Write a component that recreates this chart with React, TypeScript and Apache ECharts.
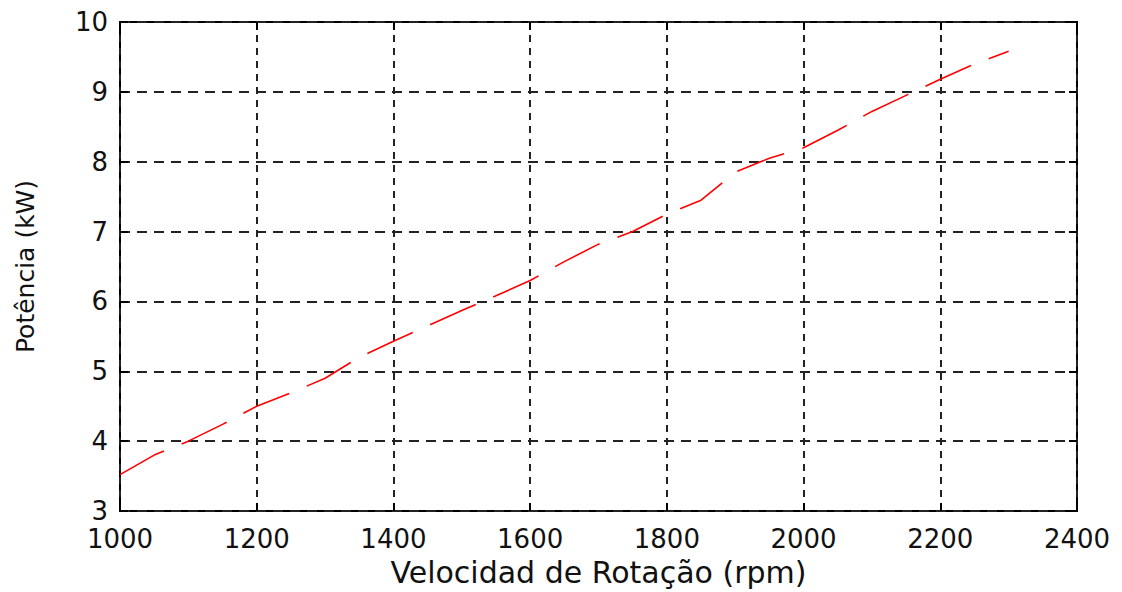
import React, { useEffect, useRef } from "react";
import * as echarts from "echarts";

const rpm = [1000, 1050, 1100, 1150, 1200, 1250, 1300, 1350, 1400, 1450, 1500, 1550, 1600, 1650, 1700, 1750, 1800, 1850, 1900, 1950, 2000, 2050, 2100, 2150, 2200, 2250, 2300];
const power = [3.52, 3.8, 4.0, 4.24, 4.5, 4.69, 4.9, 5.2, 5.43, 5.65, 5.87, 6.08, 6.3, 6.57, 6.82, 7.0, 7.25, 7.45, 7.85, 8.05, 8.2, 8.45, 8.72, 8.95, 9.18, 9.4, 9.58];
const xTitle = "Velocidad de Rotação (rpm)";
const yTitle = "Potência (kW)";

export default function App() {
  const ref = useRef<HTMLDivElement>(null);
  useEffect(() => {
    const chart = echarts.init(ref.current!, null, { renderer: "svg" });
    const font = "DejaVu Sans";
    const gridV = { show: true, lineStyle: { color: "#222", width: 2, type: [7, 6] } };
    const gridH = { show: true, lineStyle: { color: "#222", width: 2, type: [10, 7] } };
    const tick = { show: true, inside: true, length: 8, lineStyle: { color: "#000", width: 2 } };
    chart.setOption({
      animation: false,
      backgroundColor: "#fff",
      grid: { left: 120, right: 45, top: 22, bottom: 77, show: true, borderColor: "#000", borderWidth: 2, backgroundColor: "transparent" },
      xAxis: [
        {
          type: "value", min: 1000, max: 2400, interval: 200,
          name: xTitle, nameLocation: "middle", nameGap: 46,
          nameTextStyle: { fontFamily: font, fontSize: 30, color: "#111" },
          axisLine: { show: false },
          axisTick: tick,
          axisLabel: { fontFamily: font, fontSize: 26, lineHeight: 22, color: "#111", margin: 17, formatter: (v: number) => String(v) },
          splitLine: gridV,
        },
        {
          type: "value", min: 1000, max: 2400, interval: 200, position: "top",
          axisLine: { show: false }, axisLabel: { show: false }, splitLine: { show: false },
          axisTick: tick,
        },
      ],
      yAxis: [
        {
          type: "value", min: 3, max: 10, interval: 1,
          name: yTitle, nameLocation: "middle", nameGap: 82,
          nameTextStyle: { fontFamily: font, fontSize: 25, color: "#111" },
          axisLine: { show: false },
          axisTick: tick,
          axisLabel: { fontFamily: font, fontSize: 26, lineHeight: 22, color: "#111", margin: 12, padding: [0, 0, 4, 0] },
          splitLine: gridH,
        },
        {
          type: "value", min: 3, max: 10, interval: 1, position: "right",
          axisLine: { show: false }, axisLabel: { show: false }, splitLine: { show: false },
          axisTick: tick,
        },
      ],
      series: [
        {
          type: "line",
          data: rpm.map((r, i) => [r, power[i]]),
          showSymbol: false,
          symbol: "none",
          lineStyle: { color: "#ff0000", width: 1.6, type: [50, 19] },
        },
      ],
    });
    return () => chart.dispose();
  }, []);
  return <div ref={ref} style={{ position: "fixed", left: 0, top: 0, width: 1122, height: 592 }} />;
}
